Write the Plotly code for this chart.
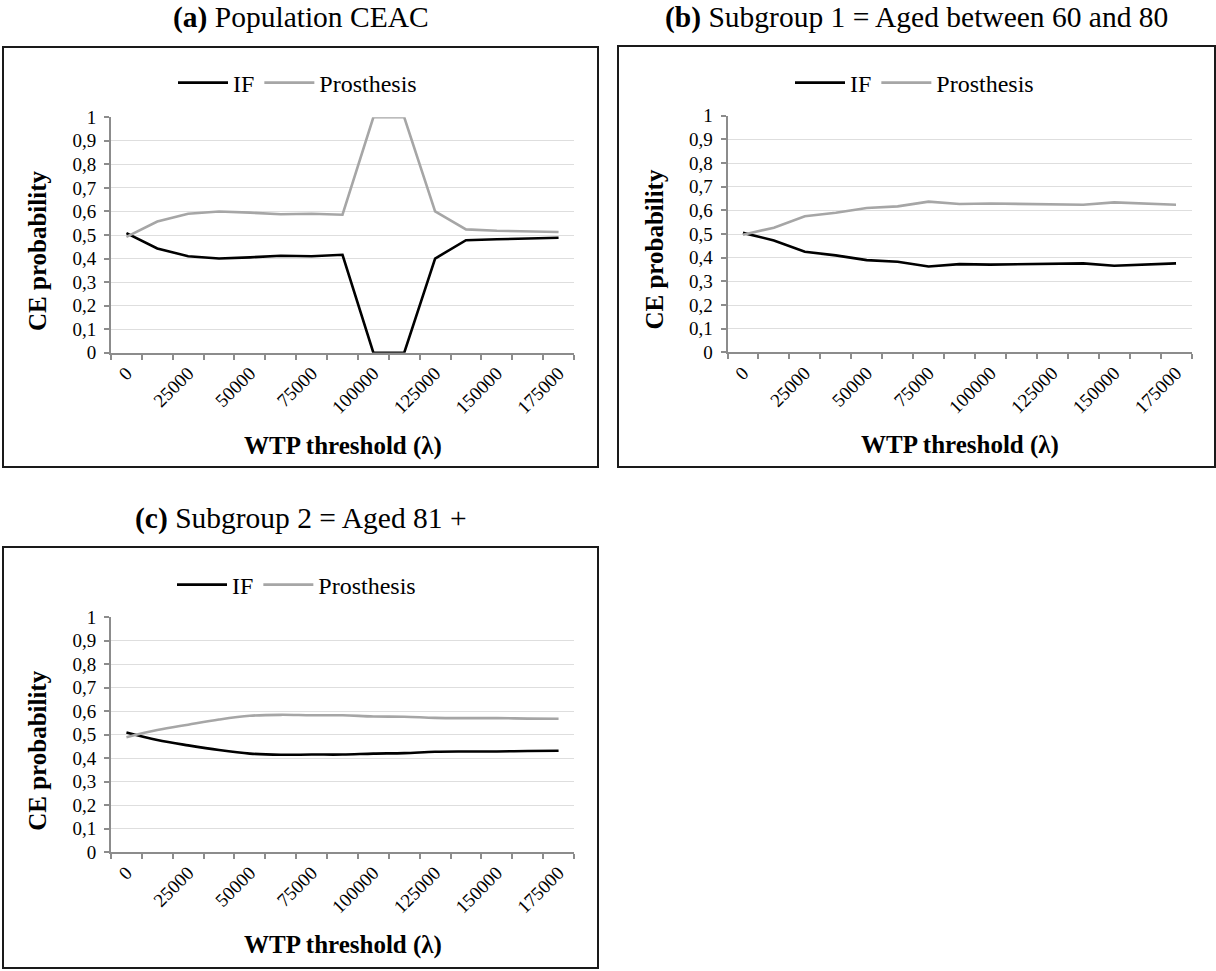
import plotly.graph_objects as go

# WTP thresholds (λ) on the category axis
wtp = [0, 12500, 25000, 37500, 50000, 62500, 75000, 87500,
       100000, 112500, 125000, 137500, 150000, 162500, 175000]
tick_vals = [0, 25000, 50000, 75000, 100000, 125000, 150000, 175000]
tick_text = ["0", "25000", "50000", "75000", "100000", "125000", "150000", "175000"]
y_vals = [0, 0.1, 0.2, 0.3, 0.4, 0.5, 0.6, 0.7, 0.8, 0.9, 1]
y_text = ["0", "0,1", "0,2", "0,3", "0,4", "0,5", "0,6", "0,7", "0,8", "0,9", "1"]

# (a) Population CEAC
pop_if = [0.508, 0.443, 0.41, 0.40, 0.405, 0.412, 0.41, 0.416,
          0.0, 0.0, 0.40, 0.478, 0.482, 0.486, 0.488]
pop_pros = [0.492, 0.557, 0.59, 0.60, 0.595, 0.588, 0.59, 0.586,
            1.0, 1.0, 0.60, 0.524, 0.518, 0.515, 0.513]

# (b) Subgroup 1: aged 60-80
sg1_if = [0.505, 0.473, 0.425, 0.41, 0.39, 0.383, 0.363, 0.373,
          0.371, 0.373, 0.376, 0.376, 0.366, 0.37, 0.376]
sg1_pros = [0.497, 0.527, 0.575, 0.59, 0.61, 0.617, 0.637, 0.627,
            0.629, 0.627, 0.624, 0.624, 0.634, 0.63, 0.624]

# (c) Subgroup 2: aged 81+
sg2_if = [0.51, 0.478, 0.455, 0.435, 0.42, 0.415, 0.416, 0.416,
          0.42, 0.422, 0.428, 0.429, 0.429, 0.431, 0.432]
sg2_pros = [0.49, 0.52, 0.543, 0.565, 0.581, 0.585, 0.583, 0.583,
            0.578, 0.577, 0.572, 0.571, 0.571, 0.569, 0.568]

W, H = 1216, 971
SERIF = "Liberation Serif"
AXIS_GREY = "#8c8c8c"
GRID_GREY = "#dedede"
IF_COLOR = "#000000"
PROS_COLOR = "#a6a6a6"


def px_x(x):
    return x / W


def px_y(y):
    return 1 - y / H


# plot areas in pixels: (left, right, top, bottom)
panels = [
    dict(area=(111, 574, 117.3, 352.7), box=(3, 598, 47, 467),
         title="<b>(a)</b> Population CEAC", title_y=18, legend_y=83,
         legend_x=173, ifs=pop_if, pros=pop_pros, shape="linear"),
    dict(area=(727.5, 1191.5, 115.7, 352.4), box=(618, 1215, 46, 467),
         title="<b>(b)</b> Subgroup 1 = Aged between 60 and 80", title_y=18,
         legend_y=83, legend_x=790, ifs=sg1_if, pros=sg1_pros, shape="linear"),
    dict(area=(111, 574, 617.3, 852.3), box=(3, 598, 547, 968),
         title="<b>(c)</b> Subgroup 2 = Aged 81 +", title_y=518,
         legend_y=585, legend_x=172, ifs=sg2_if, pros=sg2_pros, shape="spline"),
]

fig = go.Figure()
layout = dict(width=W, height=H, margin=dict(l=0, r=0, t=0, b=0, pad=0),
              autosize=False,
              paper_bgcolor="white", plot_bgcolor="white",
              font=dict(family=SERIF, color="black"))
annotations = []
shapes = []
half = (wtp[1] - wtp[0]) / 2
bounds = [wtp[0] - half + k * 2 * half for k in range(len(wtp) + 1)]

for i, p in enumerate(panels):
    n = "" if i == 0 else str(i + 1)
    xa, ya = "x" + n, "y" + n
    leg = "legend" + n
    l, r, t, b = p["area"]
    fig.add_trace(go.Scatter(x=wtp, y=p["ifs"], name="IF", mode="lines",
                             line=dict(color=IF_COLOR, width=2.6, shape=p["shape"]),
                             xaxis=xa, yaxis=ya, legend=leg))
    fig.add_trace(go.Scatter(x=wtp, y=p["pros"], name="Prosthesis", mode="lines",
                             line=dict(color=PROS_COLOR, width=2.6, shape=p["shape"]),
                             xaxis=xa, yaxis=ya, legend=leg))
    layout["xaxis" + n] = dict(
        domain=[px_x(l), px_x(r)], anchor=ya, range=[bounds[0], bounds[-1]],
        tickmode="array", tickvals=tick_vals, ticktext=tick_text, tickangle=-45,
        ticks="", showgrid=False, zeroline=False, showline=True,
        linecolor=AXIS_GREY, linewidth=2, automargin=False,
        tickfont=dict(family=SERIF, size=19, color="black"),
        minor=dict(tickmode="array", tickvals=bounds, ticks="outside",
                   ticklen=5, tickwidth=1.5, tickcolor=AXIS_GREY, showgrid=False),
        fixedrange=True)
    layout["yaxis" + n] = dict(
        domain=[px_y(b), px_y(t)], anchor=xa, range=[0, 1],
        tickmode="array", tickvals=y_vals, ticktext=y_text,
        ticks="outside", ticklen=5, tickwidth=1.5, tickcolor=AXIS_GREY,
        ticklabelstandoff=4, automargin=False,
        showgrid=True, gridcolor=GRID_GREY, gridwidth=1, zeroline=False,
        showline=True, linecolor=AXIS_GREY, linewidth=2,
        tickfont=dict(family=SERIF, size=19, color="black"),
        fixedrange=True)
    layout[leg] = dict(orientation="h", x=px_x(p["legend_x"]), xanchor="left",
                       y=px_y(p["legend_y"]), yanchor="middle",
                       font=dict(family=SERIF, size=24, color="black"),
                       bgcolor="rgba(0,0,0,0)", itemwidth=50, traceorder="normal")
    # panel title
    bx0, bx1, by0, by1 = p["box"]
    annotations.append(dict(text=p["title"], xref="paper", yref="paper",
                            x=px_x((bx0 + bx1) / 2), y=px_y(p["title_y"]),
                            xanchor="center", yanchor="middle", showarrow=False,
                            font=dict(family=SERIF, size=29.5, color="black")))
    # axis titles
    annotations.append(dict(text="<b>WTP threshold (λ)</b>", xref="paper", yref="paper",
                            x=px_x((l + r) / 2), y=px_y(b + 93), xanchor="center",
                            yanchor="middle", showarrow=False,
                            font=dict(family=SERIF, size=25, color="black")))
    annotations.append(dict(text="<b>CE probability</b>", xref="paper", yref="paper",
                            x=px_x(l - 73), y=px_y((t + b) / 2 + 16), xanchor="center",
                            yanchor="middle", textangle=-90, showarrow=False,
                            font=dict(family=SERIF, size=25, color="black")))
    # chart frame
    shapes.append(dict(type="rect", xref="paper", yref="paper",
                       x0=px_x(bx0), x1=px_x(bx1), y0=px_y(by1), y1=px_y(by0),
                       line=dict(color="#1a1a1a", width=2), layer="below"))

layout["annotations"] = annotations
layout["shapes"] = shapes
layout["showlegend"] = True
fig.update_layout(**layout)
fig.write_html("out.html")
